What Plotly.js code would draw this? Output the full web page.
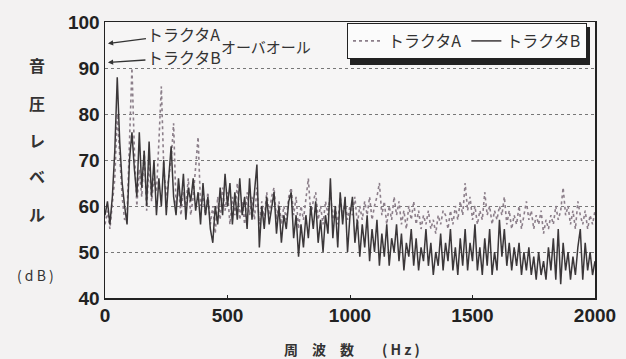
<!DOCTYPE html>
<html><head><meta charset="utf-8">
<script src="https://cdn.plot.ly/plotly-3.0.1.min.js"></script>
<style>html,body{margin:0;padding:0;background:#f3f2f2;}#chart{width:626px;height:359px;}</style>
</head><body><div id="chart"></div>
<script>
// Frequency axis: first bin and step (Hz)
const freqStart = 0;
const freqStep = 10;
// Tractor A (dotted), dB, one value every 10 Hz from 0 to 2000 Hz
const tractorA = [
56,59,55,60,66,80,70,62,57,58,74,90,72,60,68,62,72,59,70,61,
66,63,74,86,68,62,66,70,78,60,64,58,63,60,66,58,62,68,75,60,
62,58,63,56,60,54,62,57,64,59,63,56,62,58,65,57,61,56,63,58,
62,57,64,56,61,57,63,58,62,64,57,61,56,60,57,62,64,58,62,55,
60,57,62,66,58,61,63,57,60,56,61,58,63,57,60,56,62,58,61,57,
60,58,62,56,60,57,61,58,62,57,60,62,65,58,61,56,60,57,62,58,
61,56,59,55,60,57,61,56,59,55,58,56,59,55,57,54,58,56,59,58,
55,59,56,60,57,61,58,65,59,62,57,60,56,59,57,63,58,60,56,59,
57,60,58,62,56,59,55,58,56,60,55,58,61,57,59,55,58,56,59,54,
57,55,58,56,60,57,59,64,58,60,56,59,55,61,58,56,59,55,58,56,
59];
// Tractor B (solid), dB, one value every 10 Hz from 0 to 2000 Hz
const tractorB = [
58,61,56,62,72,88,74,65,60,56,70,76,68,62,76,64,72,60,74,62,
70,58,66,60,70,58,66,73,62,58,66,60,67,57,64,61,66,59,63,56,
65,58,62,55,52,60,56,64,58,67,60,65,56,63,57,66,58,62,55,66,
57,63,69,51,60,55,62,56,60,63,54,60,52,58,55,61,63,53,58,49,
56,51,58,53,60,55,61,52,57,50,58,54,66,53,60,51,63,56,62,50,
58,62,52,57,49,56,51,58,48,55,50,57,47,54,49,56,47,53,50,56,
48,54,46,52,49,55,47,53,46,51,48,55,47,52,45,50,47,54,46,52,
48,55,46,51,45,53,47,55,46,52,48,56,46,51,45,53,47,55,45,50,
46,57,49,55,47,52,46,51,47,52,45,50,46,51,45,49,44,50,45,48,
44,51,46,53,44,55,43,52,46,50,44,49,45,51,55,44,52,46,50,45,
48];
// Overall levels (dB) marked at the left edge
const overallA = 95.3;
const overallB = 91.2;
// Axis ticks
const xTicks = [0, 500, 1000, 1500, 2000];
const yTicks = [40, 50, 60, 70, 80, 90, 100];
const nameA = 'トラクタA';
const nameB = 'トラクタB';

const jp = 'Noto Sans CJK JP';
const num = 'Liberation Sans';

const traces = [
  {x0: freqStart, dx: freqStep, y: tractorA, type: 'scatter', mode: 'lines', name: nameA,
   line: {color: '#8c7f8a', width: 1.6, dash: 'dot'}},
  {x0: freqStart, dx: freqStep, y: tractorB, type: 'scatter', mode: 'lines', name: nameB,
   line: {color: '#3b3739', width: 1.5}}
];

const px = v => (v - 105) / 490;
const py = v => (298 - v) / 276;
const yLabelChars = ['音', '圧', 'レ', 'ベ', 'ル'];
const yLabelPos = [65, 103, 140, 176, 214];
const annotations = yLabelChars.map((c, i) => ({
  xref: 'paper', yref: 'paper', x: px(37), y: py(yLabelPos[i]), xanchor: 'center', yanchor: 'middle',
  text: c, showarrow: false, font: {family: jp, size: 16, weight: 'bold', color: '#333'}
}));
annotations.push({xref: 'paper', yref: 'paper', x: px(35), y: py(275), xanchor: 'center', yanchor: 'middle',
  text: '( d B )', showarrow: false, font: {family: jp, size: 14, color: '#333'}});
annotations.push({xref: 'paper', yref: 'paper', x: px(352), y: py(349), xanchor: 'center', yanchor: 'middle',
  text: '周　波　数　　( H z )', showarrow: false, font: {family: jp, size: 14, weight: 'bold', color: '#333'}});
annotations.push({x: 12, y: overallA, xref: 'x', yref: 'y', text: nameA, showarrow: true,
  ax: 76, ay: -10, arrowhead: 2, arrowsize: 0.8, arrowwidth: 1.3, arrowcolor: '#333',
  font: {family: jp, size: 16, color: '#333'}});
annotations.push({x: 12, y: overallB, xref: 'x', yref: 'y', text: nameB, showarrow: true,
  ax: 76, ay: -5, arrowhead: 2, arrowsize: 0.8, arrowwidth: 1.3, arrowcolor: '#333',
  font: {family: jp, size: 16, color: '#333'}});
annotations.push({xref: 'paper', yref: 'paper', x: px(266), y: py(46), xanchor: 'center', yanchor: 'middle',
  text: 'オーバオール', showarrow: false, font: {family: jp, size: 15, color: '#333'}});

const layout = {
  width: 626, height: 359,
  margin: {l: 105, r: 31, t: 22, b: 61},
  paper_bgcolor: '#f3f2f2', plot_bgcolor: '#f6f5f5',
  showlegend: true,
  legend: {orientation: 'h', x: px(347), y: py(23), xanchor: 'left', yanchor: 'top',
    bgcolor: '#fbfbfb', bordercolor: '#222', borderwidth: 1,
    font: {family: jp, size: 16, color: '#333'}, itemwidth: 30, tracegroupgap: 0},
  xaxis: {range: [0, 2000], tickvals: xTicks, ticktext: xTicks.map(String),
    showline: true, linecolor: '#222', linewidth: 1.5, mirror: true,
    ticks: 'inside', ticklen: 3, tickcolor: '#222', showgrid: false, zeroline: false,
    tickfont: {family: num, size: 19, weight: 'bold', color: '#222'}},
  yaxis: {range: [40, 100], tickvals: yTicks, ticktext: yTicks.map(String),
    showline: true, linecolor: '#222', linewidth: 1.5, mirror: true,
    ticks: '', showgrid: true, gridcolor: '#777', griddash: 'dot', gridwidth: 1, zeroline: false,
    tickfont: {family: num, size: 19, weight: 'bold', color: '#222'}},
  shapes: [
    {type: 'rect', xref: 'paper', yref: 'paper', layer: 'below',
     x0: px(350), x1: px(590), y0: py(65), y1: py(27),
     fillcolor: '#222', line: {width: 0}}
  ],
  annotations: annotations
};
Plotly.newPlot('chart', traces, layout, {displayModeBar: false, staticPlot: true});
</script></body></html>
